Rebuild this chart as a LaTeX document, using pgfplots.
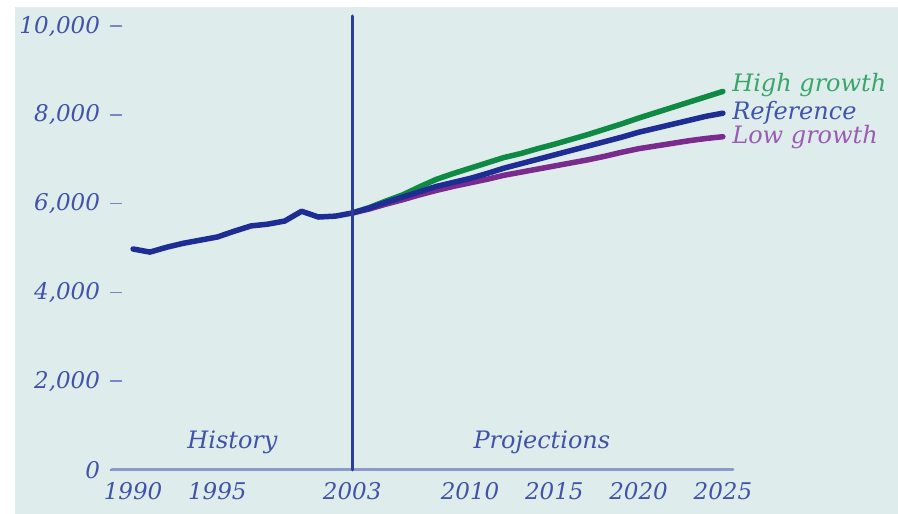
\documentclass[border=0pt]{standalone}
\usepackage{pgfplots}
\pgfplotsset{compat=1.18}
\usepackage{fontspec}
\setmainfont{DejaVu Serif}
\definecolor{bgc}{HTML}{DEEDEC}
\definecolor{navy}{HTML}{1E2D93}
\definecolor{vline}{HTML}{2C3C9C}
\definecolor{axc}{HTML}{8C9ACB}
\definecolor{tickc}{HTML}{4152A8}
\definecolor{grn}{HTML}{0E8A44}
\definecolor{prp}{HTML}{7B2A8E}
\definecolor{grntxt}{HTML}{3AA56A}
\definecolor{reftxt}{HTML}{4254AA}
\definecolor{prptxt}{HTML}{9B5BB5}

\pgfplotstableread{
year val
1990 4980
1991 4910
1992 5020
1993 5110
1994 5180
1995 5250
1996 5380
1997 5500
1998 5540
1999 5610
2000 5830
2001 5700
2002 5720
2003 5790
}\history

\pgfplotstableread{
year high ref low
2003 5790 5790 5790
2004 5910 5900 5880
2005 6060 6030 5990
2006 6200 6150 6090
2007 6380 6270 6200
2008 6550 6390 6300
2009 6680 6480 6390
2010 6800 6570 6470
2011 6920 6680 6550
2012 7040 6800 6640
2013 7130 6900 6710
2014 7240 7000 6780
2015 7340 7100 6850
2016 7450 7200 6920
2017 7560 7300 6990
2018 7680 7400 7070
2019 7800 7500 7160
2020 7930 7610 7240
2021 8050 7700 7300
2022 8170 7790 7360
2023 8290 7880 7420
2024 8410 7970 7470
2025 8530 8040 7510
}\proj

\begin{document}
\begin{tikzpicture}[x=1pt,y=1pt]
\path[use as bounding box] (0,0) rectangle (898,514);
\fill[white] (0,0) rectangle (898,514);
\fill[bgc] (15,0) rectangle (898,507);
\begin{axis}[
  at={(112pt,44pt)}, anchor=south west,
  scale only axis, width=621pt, height=454pt,
  xmin=1988.75, xmax=2025.6, ymin=0, ymax=10230,
  clip=false,
  scaled y ticks=false, scaled x ticks=false,
  axis x line=bottom, axis y line=left,
  axis line style={-},
  x axis line style={draw=axc, line width=3pt},
  y axis line style={draw=none},
  xtick={1990,1995,2003,2010,2015,2020,2025},
  xticklabels={1990,1995,2003,2010,2015,2020,2025},
  ytick={0,2000,4000,6000,8000,10000},
  yticklabels={0,{2,000},{4,000},{6,000},{8,000},{10,000}},
  x tick style={draw=none},
  y tick style={draw=tickc!70, line width=1.5pt, xshift=4pt},
  tick align=center, major tick length=11pt,
  tick label style={font=\fontsize{23}{26}\selectfont\itshape, text=tickc},
  yticklabel style={xshift=-3pt},
  xticklabel style={yshift=-3pt},
  line join=round, line cap=round,
]
\addplot[navy, line width=5.5pt] table[x=year, y=val] {\history};
\addplot[grn, line width=5.5pt] table[x=year, y=high] {\proj};
\addplot[prp, line width=5.5pt] table[x=year, y=low] {\proj};
\addplot[navy, line width=5.5pt] table[x=year, y=ref] {\proj};
\draw[vline, line width=3pt] (axis cs:2003,0) -- (axis cs:2003,10230);
\node[anchor=west, text=grntxt, font=\fontsize{24}{26}\selectfont\itshape, inner sep=0pt] at (axis cs:2025.55,8670) {High growth};
\node[anchor=west, text=reftxt, font=\fontsize{24}{26}\selectfont\itshape, inner sep=0pt] at (axis cs:2025.55,8040) {Reference};
\node[anchor=west, text=prptxt, font=\fontsize{24}{26}\selectfont\itshape, inner sep=0pt] at (axis cs:2025.55,7500) {Low growth};
\node[text=tickc, font=\fontsize{24}{26}\selectfont\itshape] at (axis cs:1995.9,630) {History};
\node[text=tickc, font=\fontsize{24}{26}\selectfont\itshape] at (axis cs:2014.26,630) {Projections};
\end{axis}
\end{tikzpicture}
\end{document}
